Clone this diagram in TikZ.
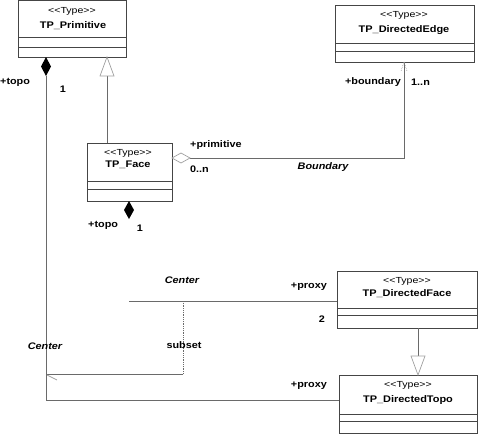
\documentclass[tikz,border=0pt]{standalone}
\usepackage{fontspec}
\setmainfont{Liberation Sans}
\newfontfamily\widefont[FakeStretch=1.14]{Liberation Sans}
\newfontfamily\sterfont[FakeStretch=1.2]{Liberation Sans}
\usetikzlibrary{calc}
\definecolor{boxc}{HTML}{454545}
\definecolor{linec}{HTML}{6A6A6A}
\definecolor{tipc}{HTML}{A0A0A0}
\newcommand{\stereo}{{<}{<}Type{>}{>}}
\begin{document}
\begin{tikzpicture}[x=1pt,y=-1pt,
  classbox/.style={draw=boxc, line width=1pt, inner sep=0pt, outer sep=0pt, anchor=north west},
  comp/.style={draw=boxc, line width=1pt},
  conn/.style={draw=linec, line width=1pt},
  tipline/.style={draw=tipc, line width=0.7pt},
  lbl/.style={font=\widefont\fontsize{9.5}{10}\selectfont\bfseries, inner sep=0pt},
  ital/.style={font=\widefont\fontsize{9.5}{10}\selectfont\bfseries\itshape, inner sep=0pt},
  ster/.style={font=\sterfont\fontsize{8.8}{9}\selectfont, inner sep=0pt},
  cname/.style={font=\widefont\fontsize{9.6}{10}\selectfont\bfseries, inner sep=0pt}]
\useasboundingbox (0,0) rectangle (478,434);

% ---------- class boxes ----------
\node[classbox, minimum width=108pt, minimum height=57pt] (prim) at (18,0) {};
\draw[comp] (18,37) -- (126,37) (18,47) -- (126,47);
\node[ster] (primS) at (72,11) {\stereo};
\node[cname] (primN) at (73,26) {TP\_Primitive};

\node[classbox, minimum width=139pt, minimum height=57pt] (edge) at (335,5) {};
\draw[comp] (335,43) -- (474,43) (335,51) -- (474,51);
\node[ster] (edgeS) at (404,15) {\stereo};
\node[cname] (edgeN) at (404,30) {TP\_DirectedEdge};

\node[classbox, minimum width=85pt, minimum height=58pt] (face) at (87,143) {};
\draw[comp] (87,181) -- (172,181) (87,189) -- (172,189);
\node[ster] (faceS) at (128,153) {\stereo};
\node[cname] (faceN) at (128,165) {TP\_Face};

\node[classbox, minimum width=140pt, minimum height=57pt] (dface) at (337,271) {};
\draw[comp] (337,308) -- (477,308) (337,315) -- (477,315);
\node[ster] (dfaceS) at (407,281) {\stereo};
\node[cname] (dfaceN) at (407,294) {TP\_DirectedFace};

\node[classbox, minimum width=138pt, minimum height=58pt] (dtopo) at (339,375) {};
\draw[comp] (339,414) -- (477,414) (339,421) -- (477,421);
\node[ster] (dtopoS) at (408,385) {\stereo};
\node[cname] (dtopoN) at (408,400) {TP\_DirectedTopo};

% ---------- named points on connectors ----------
\coordinate (pA) at (46,57);
\coordinate (pAd) at (46,76);
\coordinate (pAc) at (46,400);
\coordinate (pAe) at (339,400);
\coordinate (gTip) at (107,57);
\coordinate (gBase) at (107,76);
\coordinate (gEnd) at (107,143);
\coordinate (aTip) at (172,158);
\coordinate (aEnd) at (190,158);
\coordinate (aCorner) at (404,158);
\coordinate (aTop) at (404,62);
\coordinate (fTip) at (129,201);
\coordinate (cStart) at (129,301);
\coordinate (cEnd) at (337,301);
\coordinate (dStart) at (183,301);
\coordinate (dCorner) at (183,374);
\coordinate (dEnd) at (46,374);
\coordinate (g2Start) at (418,328);
\coordinate (g2Base) at (418,356);
\coordinate (g2Tip) at (418,375);

% ---------- composition TP_Primitive -- TP_DirectedTopo ----------
\draw[conn] (pAd) -- (pAc) -- (pAe);
\fill[black] (pA) -- ++(5,9.5) -- (pAd) -- ++(-5,-9.5) -- cycle;

% ---------- generalization TP_Face -> TP_Primitive ----------
\draw[conn] (gEnd) -- (gBase);
\draw[tipline] (gTip) -- ++(7,19) -- ++(-14,0) -- cycle;

% ---------- aggregation TP_Face -- TP_DirectedEdge ----------
\draw[conn] (aEnd) -- (aCorner) -- (aTop);
\draw[tipline] (aTip) -- ++(9,-5) -- (aEnd) -- ++(-9,5) -- cycle;
\draw[tipline, densely dotted] (aTop) -- ++(-3,9) (aTop) -- ++(3,9);

% ---------- composition diamond under TP_Face ----------
\fill[black] (fTip) -- ++(5,9) -- ++(-5,9) -- ++(-5,-9) -- cycle;

% ---------- association Center -- TP_DirectedFace ----------
\draw[conn] (cStart) -- (cEnd);

% ---------- dependency subset ----------
\draw[draw=linec, line width=0.8pt, densely dotted] (dStart) -- (dCorner);
\draw[conn] (dCorner) -- (dEnd);
\draw[tipline] ($(dEnd)+(1,1)$) -- ++(10,5);

% ---------- generalization TP_DirectedFace -> TP_DirectedTopo ----------
\draw[conn] (g2Start) -- (g2Base);
\draw[tipline] (g2Tip) -- ++(-7,-19) -- ++(14,0) -- cycle;

% ---------- labels ----------
\node[lbl, anchor=west] (l1) at (0,82) {+topo};
\node[lbl] (l2) at (63,89) {1};
\node[lbl, anchor=west] (l3) at (190,145) {+primitive};
\node[lbl, anchor=west] (l4) at (190,169) {0..n};
\node[ital] (l5) at (323,167) {Boundary};
\node[lbl, anchor=east] (l6) at (401,82) {+boundary};
\node[lbl, anchor=west] (l7) at (411,82) {1..n};
\node[lbl, anchor=west] (l8) at (88,225) {+topo};
\node[lbl] (l9) at (140,228) {1};
\node[ital] (l10) at (182,280) {Center};
\node[lbl, anchor=east] (l11) at (327,287) {+proxy};
\node[lbl] (l12) at (322,319) {2};
\node[lbl] (l13) at (184,345) {subset};
\node[ital] (l14) at (45,346) {Center};
\node[lbl, anchor=east] (l15) at (327,386) {+proxy};
\end{tikzpicture}
\end{document}
